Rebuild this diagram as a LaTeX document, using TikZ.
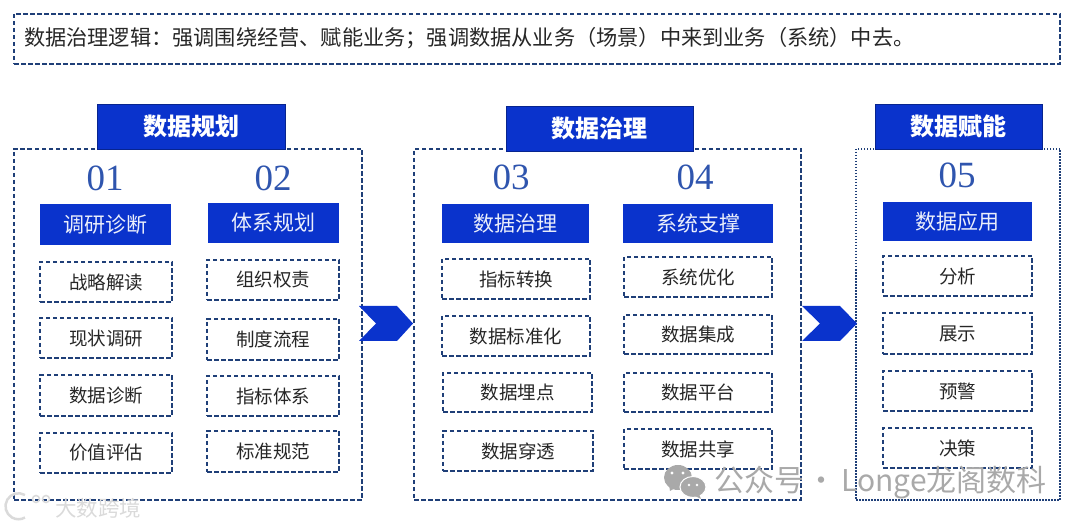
\documentclass[tikz,border=0pt]{standalone}
\usepackage{fontspec}
\setmainfont{Noto Sans CJK SC}
\newfontfamily\numfont{Liberation Serif}
\definecolor{headblue}{HTML}{0A33CC}
\definecolor{dashblue}{HTML}{1F3F78}
\definecolor{numblue}{HTML}{2F55AE}
\definecolor{itemtext}{HTML}{262626}
\definecolor{markgrey}{HTML}{A9A9A9}
\definecolor{fadegrey}{HTML}{DADADA}
\tikzset{
	panelbox/.style={draw=dashblue,line width=1.3pt,dash pattern=on 4.5pt off 2.5pt,inner sep=0pt},
	headbox/.style={fill=headblue,draw=headblue!70!black,line width=.6pt,text=white,inner sep=0pt,font=\fontsize{24}{28}\selectfont\bfseries,minimum height=45pt},
	subbox/.style={fill=headblue,text=white!92!headblue,inner sep=0pt,font=\fontsize{21}{25}\selectfont,minimum height=40pt},
	itembox/.style={draw=dashblue,line width=1.3pt,dash pattern=on 4.5pt off 2.5pt,inner sep=0pt,text=itemtext,font=\fontsize{18.5}{22}\selectfont,minimum height=40pt},
	numlabel/.style={text=numblue,inner sep=0pt,font=\fontsize{37}{40}\selectfont\numfont},
	chevron/.style={fill=headblue}
}
\begin{document}
\begin{tikzpicture}[x=1pt,y=-1pt]
	\useasboundingbox (0,0) rectangle (1080,526);
	% top line
	\node[panelbox,minimum width=1046pt,minimum height=50pt] (topbox) at (537,39) {};
	\node[right,inner sep=0pt,text=itemtext,font=\fontsize{21.2}{24}\selectfont] (toptext) at (24,38)
	{数据治理逻辑：强调围绕经营、赋能业务；强调数据从业务（场景）中来到业务（系统）中去。};
	% three panels
	\node[panelbox,minimum width=348pt,minimum height=351pt] (planpanel) at (188,324.5) {};
	\node[panelbox,minimum width=387pt,minimum height=351pt] (govpanel) at (607.5,324.5) {};
	\node[panelbox,dash pattern=on 1.5pt off 1.5pt,minimum width=204pt,minimum height=351pt] (usepanel) at (958,324.5) {};
	\node[headbox,minimum width=188pt] (planhead) at (191,126.5) {数据规划};
	\node[headbox,minimum width=187pt] (govhead) at (599.5,128.5) {数据治理};
	\node[headbox,minimum width=167pt] (usehead) at (958.5,126.5) {数据赋能};
	% 01
	\node[numlabel] (numa) at (105,178) {01};
	\node[subbox,minimum width=131pt,minimum height=41pt] (suba) at (105.5,224.5) {调研诊断};
	\node[itembox,minimum width=132pt] (itema1) at (106,282) {战略解读};
	\node[itembox,minimum width=132pt] (itema2) at (106,338) {现状调研};
	\node[itembox,minimum width=132pt,minimum height=41pt] (itema3) at (106,395.5) {数据诊断};
	\node[itembox,minimum width=132pt] (itema4) at (106,453) {价值评估};
	% 02
	\node[numlabel] (numb) at (273,178) {02};
	\node[subbox,minimum width=131pt] (subb) at (273.5,223) {体系规划};
	\node[itembox,minimum width=132pt] (itemb1) at (273,280) {组织权责};
	\node[itembox,minimum width=132pt,minimum height=41pt] (itemb2) at (273,339.5) {制度流程};
	\node[itembox,minimum width=132pt] (itemb3) at (273,396) {指标体系};
	\node[itembox,minimum width=132pt,minimum height=41pt] (itemb4) at (273,451.5) {标准规范};
	% 03
	\node[numlabel] (numc) at (511,177) {03};
	\node[subbox,minimum width=147pt,minimum height=39pt] (subc) at (515.5,223.5) {数据治理};
	\node[itembox,minimum width=148pt] (itemc1) at (516,279) {指标转换};
	\node[itembox,minimum width=148pt] (itemc2) at (516,336) {数据标准化};
	\node[itembox,minimum width=149pt,minimum height=39pt] (itemc3) at (517.5,392.5) {数据埋点};
	\node[itembox,minimum width=150pt] (itemc4) at (518,451) {数据穿透};
	% 04
	\node[numlabel] (numd) at (695,177) {04};
	\node[subbox,minimum width=150pt,minimum height=39pt] (subd) at (698,223.5) {系统支撑};
	\node[itembox,minimum width=148pt] (itemd1) at (698,277) {系统优化};
	\node[itembox,minimum width=148pt,minimum height=39pt] (itemd2) at (698,334.5) {数据集成};
	\node[itembox,minimum width=148pt,minimum height=39pt] (itemd3) at (698,392.5) {数据平台};
	\node[itembox,minimum width=148pt] (itemd4) at (698,449) {数据共享};
	% 05
	\node[numlabel] (nume) at (957,175) {05};
	\node[subbox,minimum width=149pt,minimum height=39pt] (sube) at (957.5,221.5) {数据应用};
	\node[itembox,minimum width=149pt] (iteme1) at (957.5,276) {分析};
	\node[itembox,minimum width=149pt,minimum height=41pt] (iteme2) at (957.5,333.5) {展示};
	\node[itembox,minimum width=149pt] (iteme3) at (957.5,391) {预警};
	\node[itembox,minimum width=149pt] (iteme4) at (957.5,448) {决策};
	% chevrons between the panels
	\fill[chevron] (359,306)--(397,306)--(413,323.5)--(397,341)--(359,341)--(376,323.5)--cycle;
	\fill[chevron] (802,306)--(840,306)--(857,323.5)--(840,341)--(802,341)--(820,323.5)--cycle;
	% watermarks
	\fill[markgrey] (678,477.5) ellipse (14pt and 12.5pt);
	\fill[markgrey] (669,485)--(670,491)--(675,488)--cycle;
	\fill[markgrey,draw=white,line width=1pt] (693,487) ellipse (13pt and 10.5pt);
	\fill[markgrey] (699,494)--(701,499)--(695,496)--cycle;
	\fill[white] (672,473) circle (1.6pt) (683,473) circle (1.6pt) (689,485) circle (1.3pt) (697,485) circle (1.3pt);
	\node[right,inner sep=0pt,text=markgrey,font=\fontsize{30}{32}\selectfont] (wxmark) at (714,483) {公众号\hspace{2pt}·\hspace{5pt}Longe龙阁数科};
	\draw[fadegrey,line width=2.5pt] (25,495) arc (60:300:13pt);
	\draw[fadegrey,line width=1.5pt] (36,499) circle (3.5pt) (46,499) circle (3.5pt);
	\node[right,inner sep=0pt,text=fadegrey,font=\fontsize{21.5}{26}\selectfont] (kjmark) at (55,508) {大数跨境};
\end{tikzpicture}
\end{document}
